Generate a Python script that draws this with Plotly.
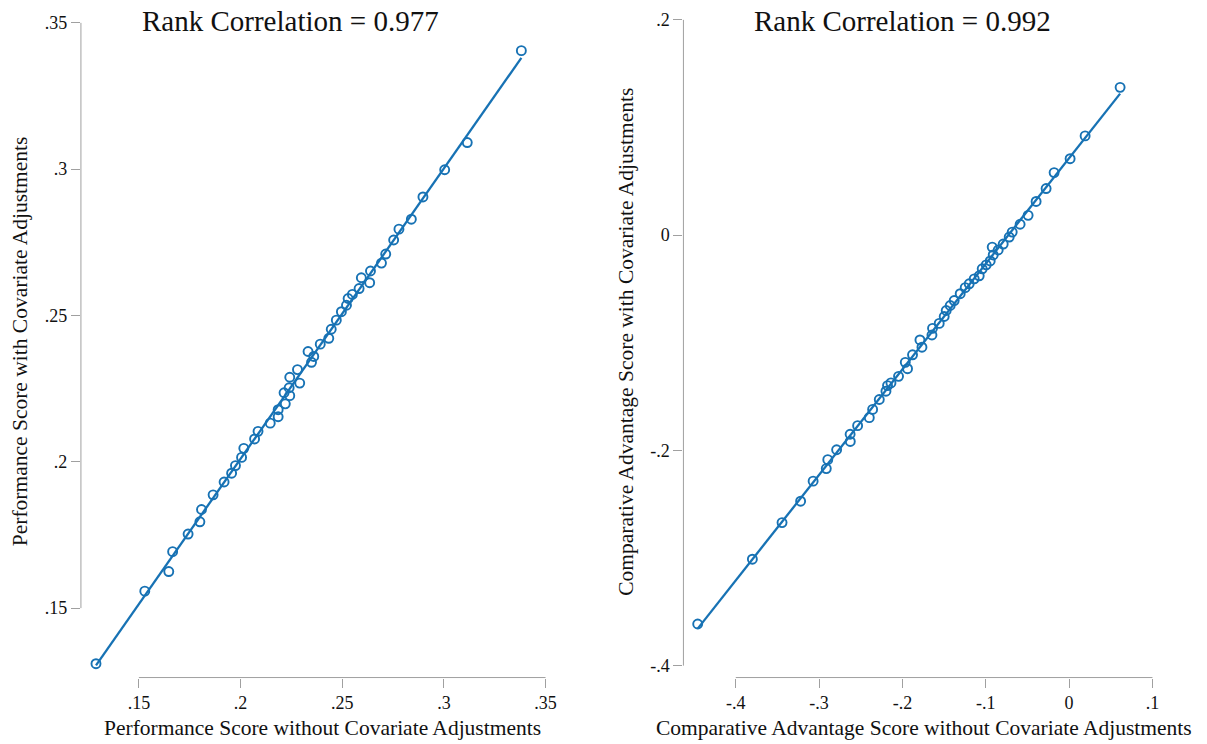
import numpy as np
import plotly.graph_objects as go

# ---------------- data ----------------
perf_without = [0.1289, 0.1529, 0.1647, 0.1666, 0.1742, 0.1800, 0.1808, 0.1865, 0.1919, 0.1956,
                0.1975, 0.2005, 0.2016, 0.2069, 0.2086, 0.2146, 0.2185, 0.2185, 0.2220, 0.2214,
                0.2242, 0.2239, 0.2242, 0.2280, 0.2291, 0.2332, 0.2349, 0.2360, 0.2392, 0.2434,
                0.2446, 0.2471, 0.2496, 0.2521, 0.2529, 0.2550, 0.2583, 0.2594, 0.2635, 0.2639,
                0.2693, 0.2714, 0.2753, 0.2779, 0.2840, 0.2897, 0.3004, 0.3115, 0.3381]
perf_with = [0.1310, 0.1558, 0.1625, 0.1693, 0.1753, 0.1795, 0.1837, 0.1887, 0.1931, 0.1961,
             0.1987, 0.2015, 0.2046, 0.2078, 0.2104, 0.2132, 0.2154, 0.2178, 0.2198, 0.2236,
             0.2226, 0.2253, 0.2289, 0.2315, 0.2269, 0.2377, 0.2340, 0.2360, 0.2402, 0.2422,
             0.2453, 0.2484, 0.2513, 0.2535, 0.2558, 0.2572, 0.2592, 0.2629, 0.2612, 0.2652,
             0.2679, 0.2710, 0.2758, 0.2795, 0.2829, 0.2905, 0.2998, 0.3091, 0.3405]

ca_without = [-0.4457, -0.3801, -0.3445, -0.3222, -0.3072, -0.2914, -0.2896, -0.2790, -0.2626, -0.2628,
              -0.2538, -0.2398, -0.2358, -0.2278, -0.2198, -0.2179, -0.2138, -0.2047, -0.1966, -0.1939,
              -0.1879, -0.1766, -0.1790, -0.1646, -0.1639, -0.1559, -0.1499, -0.1475, -0.1427, -0.1379,
              -0.1307, -0.1247, -0.1199, -0.1139, -0.1079, -0.1043, -0.0995, -0.0947, -0.0911, -0.0923,
              -0.0851, -0.0791, -0.0719, -0.0683, -0.0588, -0.0492, -0.0396, -0.0276, -0.0180, 0.0012,
              0.0192, 0.0612]
ca_with = [-0.3613, -0.3011, -0.2671, -0.2472, -0.2286, -0.2169, -0.2086, -0.1994, -0.1917, -0.1850,
           -0.1770, -0.1696, -0.1619, -0.1527, -0.1450, -0.1398, -0.1373, -0.1312, -0.1182, -0.1241,
           -0.1112, -0.1041, -0.0974, -0.0928, -0.0866, -0.0820, -0.0756, -0.0700, -0.0654, -0.0608,
           -0.0544, -0.0488, -0.0452, -0.0406, -0.0378, -0.0313, -0.0276, -0.0240, -0.0184, -0.0111,
           -0.0138, -0.0083, -0.0018, 0.0028, 0.0101, 0.0184, 0.0313, 0.0433, 0.0581, 0.0710,
           0.0922, 0.1373]

left_title = "Rank Correlation = 0.977"
right_title = "Rank Correlation = 0.992"
left_xlabel = "Performance Score without Covariate Adjustments"
left_ylabel = "Performance Score with Covariate Adjustments"
right_xlabel = "Comparative Advantage Score without Covariate Adjustments"
right_ylabel = "Comparative Advantage Score with Covariate Adjustments"

left_ticks = [0.15, 0.20, 0.25, 0.30, 0.35]
left_ticktext = [".15", ".2", ".25", ".3", ".35"]
right_xticks = [-0.4, -0.3, -0.2, -0.1, 0.0, 0.1]
right_xticktext = ["-.4", "-.3", "-.2", "-.1", "0", ".1"]
right_yticks = [-0.4, -0.2, 0.0, 0.2]
right_yticktext = ["-.4", "-.2", "0", ".2"]

# ---------------- layout helpers ----------------
# the page's body margin is removed after drawing, so the figure fills the window
W, H = 1207, 744


def xp(px):
    return px / W


def yp(py):
    return 1 - py / H


BLUE = "#1772b4"
GRAY = "#a0a0a0"
FONT = "Liberation Serif"

PLOT_TOP, PLOT_BOTTOM = 10, 677


def fit_line(x, y):
    x = np.asarray(x)
    y = np.asarray(y)
    b, a = np.polyfit(x, y, 1)
    xs = np.array([x.min(), x.max()])
    return xs, a + b * xs


fig = go.Figure()

for xs_, ys_, xa, ya in [(perf_without, perf_with, "x", "y"),
                         (ca_without, ca_with, "x2", "y2")]:
    lx, ly = fit_line(xs_, ys_)
    fig.add_trace(go.Scatter(x=lx, y=ly, mode="lines", xaxis=xa, yaxis=ya,
                             line=dict(color=BLUE, width=2.3), showlegend=False,
                             hoverinfo="skip"))
    fig.add_trace(go.Scatter(x=xs_, y=ys_, mode="markers", xaxis=xa, yaxis=ya,
                             marker=dict(symbol="circle-open", size=9, color=BLUE,
                                         line=dict(color=BLUE, width=1.9)),
                             showlegend=False))

y_dom = [yp(PLOT_BOTTOM), yp(PLOT_TOP)]

axis_common = dict(showgrid=False, zeroline=False, showline=False,
                   ticks="outside", ticklen=9, tickwidth=1, tickcolor=GRAY,
                   ticklabeloverflow="allow",
                   tickfont=dict(family=FONT, size=18, color="#111111"))

# left panel pixel scales: x .15 at 139 (2035 px/unit); y .15 at 607 (2950 px/unit)
# right panel pixel scales: x 0 at 1070 (834 px/unit); y 0 at 231 (1085 px/unit)
L_X0, L_X1 = 81, 556
R_X0, R_X1 = 684, 1165

fig.update_layout(
    width=W, height=H,
    margin=dict(l=0, r=0, t=0, b=0),
    paper_bgcolor="white", plot_bgcolor="white",
    xaxis=dict(domain=[xp(L_X0), xp(L_X1)],
               range=[0.15 + (L_X0 - 139) / 2035, 0.15 + (L_X1 - 139) / 2035],
               tickvals=left_ticks, ticktext=left_ticktext, anchor="y", **axis_common),
    yaxis=dict(domain=y_dom,
               range=[0.15 + (607 - PLOT_BOTTOM) / 2950, 0.15 + (607 - PLOT_TOP) / 2950],
               tickvals=left_ticks, ticktext=left_ticktext, anchor="x", **axis_common),
    xaxis2=dict(domain=[xp(R_X0), xp(R_X1)],
                range=[(R_X0 - 1070) / 834, (R_X1 - 1070) / 834],
                tickvals=right_xticks, ticktext=right_xticktext, anchor="y2", **axis_common),
    yaxis2=dict(domain=y_dom,
                range=[(231 - PLOT_BOTTOM) / 1085, (231 - PLOT_TOP) / 1085],
                tickvals=right_yticks, ticktext=right_yticktext, anchor="x2", **axis_common),
)

# axis lines spanning only the labelled tick range (Stata style)
shapes = [
    dict(type="line", xref="x domain", x0=0, x1=0, yref="y", y0=left_ticks[0], y1=left_ticks[-1]),
    dict(type="line", xref="x", x0=left_ticks[0], x1=left_ticks[-1], yref="y domain", y0=0, y1=0),
    dict(type="line", xref="x2 domain", x0=0, x1=0, yref="y2", y0=right_yticks[0], y1=right_yticks[-1]),
    dict(type="line", xref="x2", x0=right_xticks[0], x1=right_xticks[-1], yref="y2 domain", y0=0, y1=0),
]
for s in shapes:
    s["line"] = dict(color=GRAY, width=1)
    fig.add_shape(**s)

ann_font = dict(family=FONT, size=21.5, color="#111111")
title_font = dict(family=FONT, size=29, color="#111111")
annotations = [
    dict(text=left_title, x=xp(291), y=yp(15), font=title_font),
    dict(text=right_title, x=xp(903), y=yp(15), font=title_font),
    dict(text=left_xlabel, x=xp(323), y=yp(728), font=ann_font),
    dict(text=right_xlabel, x=xp(925), y=yp(728), font=ann_font),
    dict(text=left_ylabel, x=xp(20), y=yp(338), font=ann_font, textangle=-90),
    dict(text=right_ylabel, x=xp(627), y=yp(338), font=ann_font, textangle=-90),
]
for a in annotations:
    fig.add_annotation(xref="paper", yref="paper", showarrow=False,
                       xanchor="center", yanchor="middle", borderpad=0, **a)

fig.write_html(
    "out.html",
    config={"displayModeBar": False},
    post_script="document.body.style.margin='0px';document.body.style.overflow='hidden';",
)
